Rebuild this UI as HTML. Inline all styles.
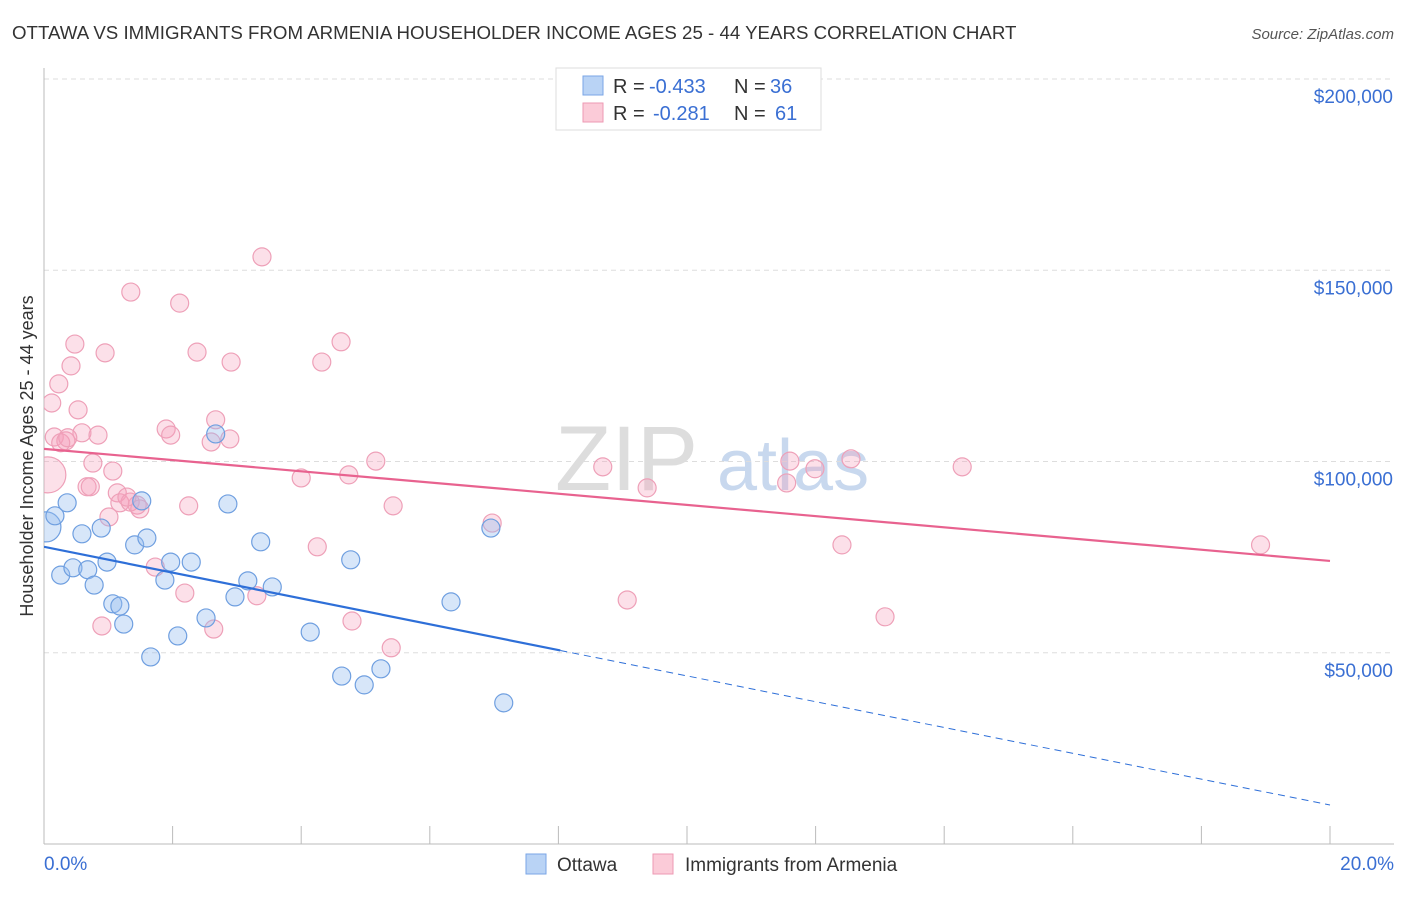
<!DOCTYPE html>
<html><head><meta charset="utf-8"><style>
body{margin:0;background:#fff;font-family:"Liberation Sans",sans-serif}
svg text{font-family:"Liberation Sans",sans-serif}
</style></head><body>
<svg id="chart" width="1406" height="892" xmlns="http://www.w3.org/2000/svg">
<text x="12" y="39" font-size="18.7" fill="#333">OTTAWA VS IMMIGRANTS FROM ARMENIA HOUSEHOLDER INCOME AGES 25 - 44 YEARS CORRELATION CHART</text>
<text x="1394" y="39" font-size="15" fill="#555" font-style="italic" text-anchor="end">Source: ZipAtlas.com</text>
<g>
<text x="555" y="490" font-size="92" fill="#ddd" font-family="Liberation Serif,serif">ZIP</text>
<text x="717" y="490" font-size="72" fill="#c8d8ee">atlas</text>
</g>
<g id="grid"></g>
<g id="axes"></g>
<g id="marks"></g>
<text transform="translate(33,456) rotate(-90)" font-size="18" fill="#333" text-anchor="middle">Householder Income Ages 25 - 44 years</text>
<g>
<rect x="556" y="68" width="265" height="62" fill="#fff" stroke="#ddd"/>
<rect x="583" y="76" width="20" height="19" fill="#b9d3f5" stroke="#7aa6e6"/>
<rect x="583" y="103" width="20" height="19" fill="#fbcbd8" stroke="#ee9ab3"/>
<text x="613" y="93" font-size="20" fill="#333">R =</text>
<text x="649" y="93" font-size="20" fill="#3a6fd3">-0.433</text>
<text x="734" y="93" font-size="20" fill="#333">N =</text>
<text x="770" y="93" font-size="20" fill="#3a6fd3">36</text>
<text x="613" y="120" font-size="20" fill="#333">R =</text>
<text x="653" y="120" font-size="20" fill="#3a6fd3">-0.281</text>
<text x="734" y="120" font-size="20" fill="#333">N =</text>
<text x="775" y="120" font-size="20" fill="#3a6fd3">61</text>
</g>
<g>
<rect x="526" y="854" width="20" height="20" fill="#b9d3f5" stroke="#7aa6e6"/>
<text x="557" y="871" font-size="19" fill="#333">Ottawa</text>
<rect x="653" y="854" width="20" height="20" fill="#fbcbd8" stroke="#ee9ab3"/>
<text x="685" y="871" font-size="19" fill="#333">Immigrants from Armenia</text>
</g>
</svg>
<script>
const yTicks=[50000,100000,150000,200000];
const yTickLabels=["$50,000","$100,000","$150,000","$200,000"];
const xTicks=[0,2,4,6,8,10,12,14,16,18,20];
const ottawaX=[0.03,0.17,0.36,0.26,0.45,0.59,0.68,0.78,0.89,0.98,1.07,1.18,1.24,1.41,1.52,1.60,1.66,1.88,1.97,2.08,2.29,2.52,2.67,2.86,2.97,3.17,3.37,3.55,4.14,4.63,4.77,4.98,5.24,6.33,6.95,7.15];
const ottawaY=[82900,85800,89200,70300,72200,81100,71700,67700,82600,73700,62800,62200,57500,78200,89700,80000,48900,69000,73700,54400,73700,59100,107200,88900,64600,68800,79000,67200,55400,43900,74300,41600,45800,63300,82600,36900];
const ottawaR=[15,9,9,9,9,9,9,9,9,9,9,9,9,9,9,9,9,9,9,9,9,9,9,9,9,9,9,9,9,9,9,9,9,9,9,9];
const armeniaX=[3.39,1.35,2.11,0.48,0.95,2.38,2.91,4.62,4.32,0.42,0.23,0.12,0.53,0.16,0.34,0.26,0.59,0.84,1.90,1.97,2.67,2.60,2.89,0.76,1.07,0.06,0.67,0.72,1.14,1.18,1.34,1.45,1.49,1.01,2.25,4.00,4.74,5.16,5.43,4.25,1.73,2.19,3.31,4.79,0.90,2.64,5.40,6.97,8.69,9.38,9.07,11.60,11.55,11.99,12.55,12.41,13.08,14.28,18.92,1.29,0.37];
const armeniaY=[153500,144300,141400,130700,128400,128600,126000,131300,126000,125000,120300,115300,113500,106400,105400,104900,107500,106900,108500,106900,110900,105100,105900,99600,97500,96500,93400,93400,91800,89200,89400,88600,87600,85500,88400,95700,96500,100100,88400,77700,72400,65600,64900,58300,57000,56200,51300,83900,98600,93100,63800,100100,94400,98100,100700,78200,59400,98600,78200,90700,106200];
const armeniaR=[9,9,9,9,9,9,9,9,9,9,9,9,9,9,9,9,9,9,9,9,9,9,9,9,9,18,9,9,9,9,9,9,9,9,9,9,9,9,9,9,9,9,9,9,9,9,9,9,9,9,9,9,9,9,9,9,9,9,9,9,9];
const ottawaTrend=[77700,10200];
const armeniaTrend=[103300,74000];
const ottawaSolidEnd=8.03;
const X0=44,X1=1330,Y0=844,Ytop=79;
const xs=v=>X0+(v/20)*(X1-X0);
const ys=v=>Y0-(v/200000)*(Y0-Ytop);
const NS="http://www.w3.org/2000/svg";
function mk(tag,attrs,parent){const e=document.createElementNS(NS,tag);for(const k in attrs)e.setAttribute(k,attrs[k]);parent.appendChild(e);return e;}
const grid=document.getElementById('grid'),axes=document.getElementById('axes'),marks=document.getElementById('marks');
yTicks.forEach((t,i)=>{
 const l=mk('line',{x1:X0,x2:1394,y1:ys(t),y2:ys(t),stroke:'#ddd','stroke-dasharray':'5,4'},grid);
 
 
 const tx=mk('text',{x:1393,y:ys(t)+24,'font-size':19,fill:'#3a6fd3','text-anchor':'end'},axes);
 tx.textContent=yTickLabels[i];
 
 
});
const ax=mk('line',{x1:X0,x2:1394,y1:Y0,y2:Y0,stroke:'#bbb'},axes);


const ay=mk('line',{x1:X0,x2:X0,y1:68,y2:Y0,stroke:'#bbb'},axes);


xTicks.forEach(t=>{
 const l=mk('line',{x1:xs(t),x2:xs(t),y1:Y0,y2:Y0-18,stroke:'#bbb'},axes);
 
 
});
const xl0=mk('text',{x:44,y:870,'font-size':19,fill:'#3a6fd3'},axes);xl0.textContent='0.0%';


const xl1=mk('text',{x:1394,y:870,'font-size':19,fill:'#3a6fd3','text-anchor':'end'},axes);xl1.textContent='20.0%';


const clip=mk('clipPath',{id:'pc'},marks);mk('rect',{x:X0,y:60,width:1360,height:784},clip);
const g=mk('g',{'clip-path':'url(#pc)'},marks);
armeniaX.forEach((x,i)=>{
 const c=mk('circle',{cx:xs(x),cy:ys(armeniaY[i]),r:armeniaR[i],fill:'rgba(246,160,186,0.32)',stroke:'#eea0b8','stroke-width':1.2},g);
 
 
});
ottawaX.forEach((x,i)=>{
 const c=mk('circle',{cx:xs(x),cy:ys(ottawaY[i]),r:ottawaR[i],fill:'rgba(150,190,240,0.38)',stroke:'#6f9fe0','stroke-width':1.2},g);
 
 
});
const pt=mk('line',{x1:xs(0),y1:ys(armeniaTrend[0]),x2:xs(20),y2:ys(armeniaTrend[1]),stroke:'#e8628f','stroke-width':2.2},g);


const oy=x=>ottawaTrend[0]+(ottawaTrend[1]-ottawaTrend[0])*x/20;
const ot=mk('line',{x1:xs(0),y1:ys(oy(0)),x2:xs(ottawaSolidEnd),y2:ys(oy(ottawaSolidEnd)),stroke:'#2e6fd8','stroke-width':2.2},g);


const od=mk('line',{x1:xs(ottawaSolidEnd),y1:ys(oy(ottawaSolidEnd)),x2:xs(20),y2:ys(oy(20)),stroke:'#2e6fd8','stroke-width':1,'stroke-dasharray':'7,5'},g);


</script>
</body></html>
